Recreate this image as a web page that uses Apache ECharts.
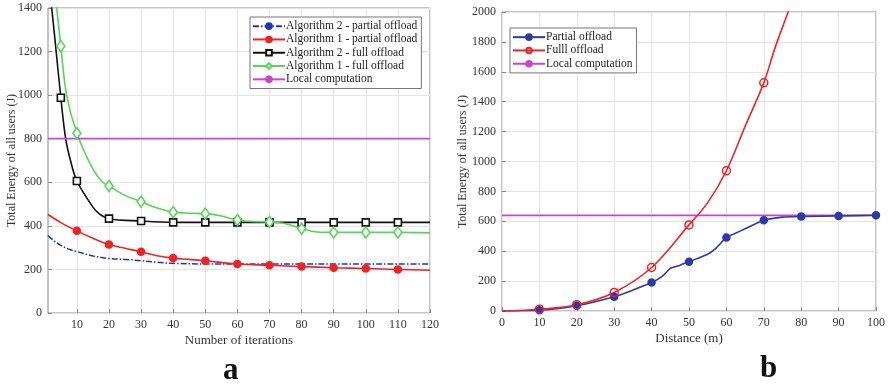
<!DOCTYPE html>
<html>
<head>
<meta charset="utf-8">
<script src="https://cdn.jsdelivr.net/npm/echarts@6/dist/echarts.min.js"></script>
<style>
  html, body { margin: 0; padding: 0; background: #fff; }
  #chart { width: 890px; height: 385px; }
</style>
</head>
<body>
<div id="chart"></div>
<script>
// ---- Panel a: energy vs. number of iterations ----
const iterTicks = [10, 20, 30, 40, 50, 60, 70, 80, 90, 100, 110, 120];

const alg2PartialX = [1, 3, 5, 8, 10, 15, 20, 25, 30, 35, 40, 50, 60, 70, 80, 90, 100, 110, 120];
const alg2PartialY = [355, 330, 310, 290, 282, 262, 250, 246, 240, 233, 228, 225, 225, 225, 225, 225, 225, 225, 225];

const alg1PartialX = [1, 5, 10, 15, 20, 25, 30, 35, 40, 45, 50, 60, 70, 80, 90, 100, 110, 120];
const alg1PartialY = [452, 415, 377, 343, 314, 297, 281, 263, 252, 246, 240, 225, 219, 213, 208, 204, 200, 196];
const alg1PartialMarks = [10, 20, 30, 40, 50, 60, 70, 80, 90, 100, 110];

const alg2FullX = [1, 3, 5, 6.5, 8, 10, 15, 17, 20, 30, 40, 50, 60, 70, 80, 90, 100, 110, 120];
const alg2FullY = [1560, 1280, 988, 800, 700, 606, 486, 455, 433, 422, 416, 416, 416, 416, 416, 416, 416, 416, 416];
const alg2FullMarks = [5, 10, 20, 30, 40, 50, 60, 70, 80, 90, 100, 110];

const alg1FullX = [1, 3, 5, 6.8, 10, 15, 18, 20, 25, 30, 35, 40, 45, 50, 55, 60, 65, 70, 75, 80, 85, 90, 100, 110, 120];
const alg1FullY = [1800, 1500, 1225, 1000, 825, 660, 600, 583, 540, 511, 482, 463, 458, 456, 445, 427, 420, 418, 410, 387, 372, 370, 370, 370, 368];
const alg1FullMarks = [5, 10, 20, 30, 40, 50, 60, 70, 80, 90, 100, 110];

const localA = 800;

// ---- Panel b: energy vs. distance ----
const partialX = [0, 10, 20, 30, 35, 40, 43, 45, 47.5, 50, 55, 57, 60, 62, 65, 70, 75, 80, 90, 100];
const partialY = [0, 5, 35, 95, 140, 190, 235, 285, 305, 330, 380, 415, 492, 515, 550, 607, 628, 632, 636, 640];
const partialMarks = [10, 20, 30, 40, 50, 60, 70, 80, 90, 100];

const fullX = [0, 10, 20, 30, 40, 50, 55, 60, 65, 70, 73, 76.5, 80];
const fullY = [0, 12, 42, 124, 291, 576, 725, 938, 1235, 1526, 1760, 2000, 2250];
const fullMarks = [10, 20, 30, 40, 50, 60, 70];

const localB = 640;

const FONT = 'Liberation Serif';
const C_BLUE = '#2233c4';
const C_RED = '#f22222';
const C_GREEN = '#55d655';
const C_MAG = '#cc44cc';
const C_BLACK = '#111111';
const C_BLUE_B = '#2b3aa8';

function pts(xs, ys, marks) {
  return xs.map((x, i) => {
    const item = { value: [x, ys[i]] };
    if (!marks || marks.indexOf(x) < 0) item.symbol = 'none';
    return item;
  });
}

function lineSeries(name, xi, yi, xs, ys, marks, color, symbol, opts) {
  return Object.assign({
    name: name,
    type: 'line',
    xAxisIndex: xi,
    yAxisIndex: yi,
    data: pts(xs, ys, marks),
    smooth: 0.35,
    symbol: symbol,
    symbolSize: 7,
    showAllSymbol: true,
    clip: true,
    lineStyle: { color: color, width: 1.6 },
    itemStyle: { color: color, borderColor: color, borderWidth: 1.5 },
    emphasis: { disabled: true },
    animation: false,
    z: 3
  }, opts || {});
}

const plainNum = v => String(v);
const axisText = { fontFamily: FONT, fontSize: 12, color: '#333', formatter: plainNum };
const splitStyle = { show: true, lineStyle: { color: '#e4e4e4', width: 1 } };
const tickStyle = { show: true, inside: true, length: 4, lineStyle: { color: '#8a8a8a' } };
const nameStyle = { fontFamily: FONT, fontSize: 13, color: '#333' };
const legendBase = {
  orient: 'vertical',
  itemWidth: 32, itemHeight: 7, itemGap: 1,
  padding: [3, 4, 3, 2],
  backgroundColor: '#fff', borderColor: '#777', borderWidth: 1, borderRadius: 0,
  textStyle: { fontFamily: FONT, fontSize: 11.5, lineHeight: 12.3, color: '#222', padding: [0, 0, 0, -4] },
  selectedMode: false
};

const option = {
  animation: false,
  grid: [
    { left: 48, top: 8, width: 382, height: 305, show: true, borderColor: '#8a8a8a', borderWidth: 1, backgroundColor: 'transparent' },
    { left: 502, top: 12, width: 374, height: 299, show: true, borderColor: '#8a8a8a', borderWidth: 1, backgroundColor: 'transparent' }
  ],
  xAxis: [
    {
      gridIndex: 0, type: 'value', min: 1, max: 120,
      axisLine: { show: false },
      axisTick: Object.assign({ customValues: iterTicks }, tickStyle),
      axisLabel: Object.assign({ customValues: iterTicks, margin: 6 }, axisText),
      splitLine: splitStyle,
      name: 'Number of iterations', nameLocation: 'middle', nameGap: 21, nameMoveOverlap: false,
      nameTextStyle: nameStyle
    },
    {
      gridIndex: 1, type: 'value', min: 0, max: 100, interval: 10,
      axisLine: { show: false },
      axisTick: tickStyle,
      axisLabel: Object.assign({ margin: 6 }, axisText),
      splitLine: splitStyle,
      name: 'Distance (m)', nameLocation: 'middle', nameGap: 21, nameMoveOverlap: false,
      nameTextStyle: nameStyle
    }
  ],
  yAxis: [
    {
      gridIndex: 0, type: 'value', min: 0, max: 1400, interval: 200,
      axisLine: { show: false },
      axisTick: tickStyle,
      axisLabel: Object.assign({ margin: 6 }, axisText),
      splitLine: splitStyle,
      name: 'Total Energy of all users (J)', nameLocation: 'middle', nameGap: 30, nameMoveOverlap: false,
      nameTextStyle: { fontFamily: FONT, fontSize: 12, color: '#333' }
    },
    {
      gridIndex: 1, type: 'value', min: 0, max: 2000, interval: 200,
      axisLine: { show: false },
      axisTick: tickStyle,
      axisLabel: Object.assign({ margin: 6 }, axisText),
      splitLine: splitStyle,
      name: 'Total Energy of all users (J)', nameLocation: 'middle', nameGap: 33, nameMoveOverlap: false,
      nameTextStyle: { fontFamily: FONT, fontSize: 12, color: '#333' }
    }
  ],
  legend: [
    Object.assign({}, legendBase, {
      left: 250, top: 17,
      data: ['Algorithm 2 - partial offload', 'Algorithm 1 - partial offload', 'Algorithm 2 - full offload', 'Algorithm 1 - full offload', 'Local computation ']
    }),
    Object.assign({}, legendBase, {
      left: 510, top: 28,
      data: ['Partial offload', 'Fulll offload', 'Local computation']
    })
  ],
  title: [
    { text: 'a', left: 218, top: 350, textStyle: { fontFamily: FONT, fontSize: 31, fontWeight: 'bold', color: '#111' } },
    { text: 'b', left: 755, top: 348, textStyle: { fontFamily: FONT, fontSize: 31, fontWeight: 'bold', color: '#111' } }
  ],
  series: [
    lineSeries('Algorithm 2 - partial offload', 0, 0, alg2PartialX, alg2PartialY, null, C_BLUE, 'none',
      { lineStyle: { color: C_BLUE, width: 1.5, type: [6, 2, 1.5, 2] } }),
    lineSeries('Algorithm 1 - partial offload', 0, 0, alg1PartialX, alg1PartialY, alg1PartialMarks, C_RED, 'circle'),
    lineSeries('Algorithm 2 - full offload', 0, 0, alg2FullX, alg2FullY, alg2FullMarks, C_BLACK, 'rect',
      { itemStyle: { color: '#fff', borderColor: C_BLACK, borderWidth: 1.6 }, symbolSize: 7 }),
    lineSeries('Algorithm 1 - full offload', 0, 0, alg1FullX, alg1FullY, alg1FullMarks, C_GREEN, 'diamond',
      { itemStyle: { color: '#fff', borderColor: C_GREEN, borderWidth: 1.6 }, symbolSize: [8, 11] }),
    lineSeries('Local computation ', 0, 0, [1, 120], [localA, localA], null, C_MAG, 'none',
      { smooth: false, lineStyle: { color: C_MAG, width: 1.8 } }),

    lineSeries('Partial offload', 1, 1, partialX, partialY, partialMarks, C_BLUE_B, 'circle',
      { smooth: 0.2 }),
    lineSeries('Fulll offload', 1, 1, fullX, fullY, fullMarks, C_RED, 'circle',
      { itemStyle: { color: 'transparent', borderColor: C_RED, borderWidth: 1.5 }, symbolSize: 8 }),
    lineSeries('Local computation', 1, 1, [0, 100], [localB, localB], null, C_MAG, 'none',
      { smooth: false, lineStyle: { color: C_MAG, width: 1.8 }, z: 2 })
  ]
};

const chart = echarts.init(document.getElementById('chart'), null, { renderer: 'canvas' });
chart.setOption(option);
</script>
</body>
</html>
